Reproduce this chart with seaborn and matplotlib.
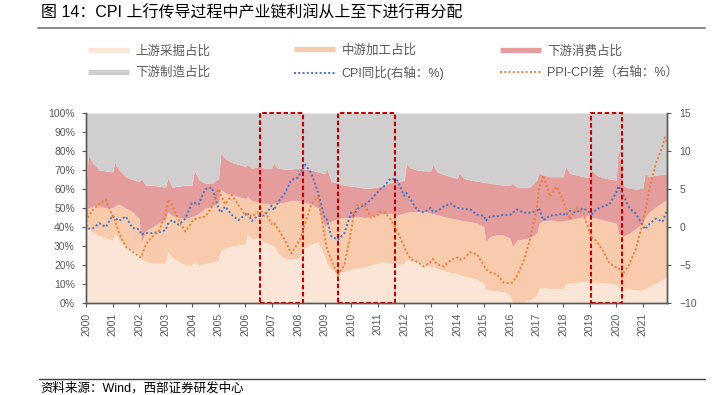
import pandas as pd
import matplotlib.pyplot as plt
import matplotlib.dates as mdates
from matplotlib.lines import Line2D
import seaborn as sns

# sample months (Dec of prev year, Jan, Mar, Jun, Sep) + last two months
years = list(range(2000, 2022))
months = []
for y in years:
    months += [f"{y-1}-12", f"{y}-01", f"{y}-03", f"{y}-06", f"{y}-09"]
months += ["2021-10", "2021-11"]

# cumulative shares (%), stacked from bottom: upstream, +midstream, +downstream consumption
upstream_top = [
    40, 39, 37.5, 35.5, 34,
    33, 37, 33, 30, 28,
    26, 23, 22, 21, 21,
    21, 27, 24, 22, 20,
    20, 22, 20, 21, 21.5,
    22.5, 28, 29, 30, 30.5,
    31, 36, 34, 34, 32,
    30.5, 30, 26, 23.5, 23,
    23.5, 25, 29, 31, 32,
    25, 21, 18, 16, 16.5,
    17.5, 18, 18.5, 19, 20,
    21, 21.5, 21.5, 21, 20.5,
    20.5, 23, 22, 21.5, 20.5,
    19, 19, 18, 17, 16,
    15.5, 15, 14, 13.5, 12.5,
    10.5, 7, 6.8, 6.3, 6,
    4.2, 0, 0, 0.7, 1.6,
    4.2, 7.7, 8, 7.7, 7.7,
    7.7, 10.4, 10.4, 10.9, 11.2,
    11.2, 11, 10.9, 10.7, 10.4,
    9.8, 8.5, 7.7, 7.4, 6.8,
    6.8, 7.5, 8.6, 10.4, 12.5, 13.5, 14,
]
midstream_top = [
    41, 50, 51, 51, 50,
    50, 51, 52, 50, 48,
    44.5, 32, 38, 40, 42,
    44, 48, 46, 45, 44.5,
    45.5, 46, 47, 50, 50.7,
    53, 60, 58, 57, 56,
    55, 56, 54, 53, 52.5,
    52, 52.5, 52.5, 53, 54,
    54, 54, 53, 52, 50,
    40, 42, 43, 44.5, 45,
    44.7, 45.5, 45.6, 45, 45.6,
    46.5, 46.8, 46.8, 47.2, 46.5,
    47.2, 47.8, 47.9, 48.2, 48.2,
    47.4, 47, 46.5, 45.5, 44.7,
    44, 43.7, 43.2, 42.8, 42,
    40.2, 32.5, 35, 35.8, 35.8,
    34, 29.6, 33, 33.7, 34.4,
    36.7, 42, 43.2, 43.7, 43,
    43.2, 43.5, 43.7, 44.6, 45.4,
    46.3, 45, 44.6, 43.7, 42.8,
    42, 36.7, 35, 36.7, 39.3,
    42, 45, 48, 50.7, 53, 53.8, 54,
]
consumption_top = [
    60, 78, 74, 70, 69.5,
    69, 74, 70, 66.5, 65,
    64, 65.5, 62, 62, 61.5,
    61, 66, 61, 61.5, 62,
    62, 70, 65, 63, 63,
    65.6, 79, 76, 74, 73,
    72, 73, 71, 71.8, 71,
    71, 73.5, 71, 70.5, 70.5,
    71, 71, 70.5, 70, 69,
    68, 71, 64, 63, 62,
    61.5, 61.5, 61, 60.5, 60.5,
    61, 61.5, 62, 63.5, 64,
    64.5, 73.5, 71, 70, 69.6,
    69.5, 73, 69, 67.7, 66.5,
    65.6, 68.5, 65.6, 64.7, 64.2,
    63.5, 63.5, 63, 62.5, 62,
    62, 63, 61.2, 60.7, 61.2,
    64.7, 68.6, 67.4, 66.5, 66.5,
    66.5, 72, 68.2, 67.4, 66.5,
    66, 70, 67.4, 66, 65.3,
    64.7, 84, 62, 60.4, 60,
    60.4, 68.2, 66.5, 67.4, 67.7, 68, 68,
]

# right axis (%)
cpi_yoy = [
    0.3, -0.2, -0.2, 0.5, 0.0,
    1.5, 1.2, 0.8, 1.4, -0.1,
    -0.3, -1.0, -0.8, -0.8, -0.7,
    -0.4, 0.4, 0.9, 0.3, 1.1,
    3.2, 3.2, 3.0, 5.0, 5.2,
    2.4, 1.9, 2.7, 1.6, 0.9,
    1.6, 1.9, 0.8, 1.5, 1.5,
    2.8, 2.2, 3.3, 4.4, 6.2,
    6.5, 7.1, 8.3, 7.1, 4.6,
    1.2, 1.0, -1.2, -1.7, -0.8,
    1.9, 1.5, 2.4, 2.9, 3.6,
    4.6, 4.9, 5.4, 6.4, 6.1,
    4.1, 4.5, 3.6, 2.2, 1.9,
    2.5, 2.0, 2.1, 2.7, 3.1,
    2.5, 2.5, 2.4, 2.3, 1.6,
    1.5, 0.8, 1.4, 1.4, 1.6,
    1.6, 1.8, 2.3, 1.9, 1.9,
    2.1, 2.5, 0.9, 1.5, 1.6,
    1.8, 1.5, 2.1, 1.9, 2.5,
    1.9, 1.7, 2.3, 2.7, 3.0,
    4.5, 5.4, 4.3, 2.5, 1.7,
    0.2, -0.3, 0.4, 1.1, 0.7, 1.5, 2.3,
]
ppi_cpi_gap = [
    0.7, 1.3, 2.2, 3.0, 3.6,
    1.4, 0.9, -0.8, -2.6, -3.2,
    -3.9, -4.0, -2.3, -1.3, -0.5,
    1.6, 3.6, 2.9, 0.9, -0.6,
    0.7, 1.0, 1.2, 1.35, 2.7,
    5.0, 4.2, 3.0, 4.2, 2.9,
    1.6, 1.7, 1.4, 2.0, 2.0,
    0.4, 0.6, -0.3, -1.7, -3.5,
    -2.0, -1.5, 0.3, 3.0, 4.0,
    -1.2, -2.8, -4.3, -6.3, -5.0,
    -0.5, 1.4, 2.9, 3.0, 1.2,
    1.5, 2.0, 2.0, 1.0, -0.6,
    -2.5, -3.3, -4.2, -4.6, -5.2,
    -4.6, -4.2, -4.9, -5.2, -4.4,
    -4.0, -4.3, -4.2, -3.3, -3.6,
    -5.0, -5.5, -6.0, -6.2, -7.3,
    -7.4, -7.3, -6.5, -4.6, -1.6,
    2.5, 5.0, 6.8, 4.0, 5.3,
    3.5, 2.5, 1.0, 2.5, 2.0,
    -0.7, -1.4, -1.8, -3.1, -4.8,
    -5.3, -5.4, -6.2, -4.9, -2.8,
    0.6, 2.0, 5.0, 8.4, 10.6, 11.8, 11.1,
]

highlight_periods = [("2006-07-31", "2008-03-10"),
                     ("2009-07-05", "2011-09-01"),
                     ("2019-01-12", "2020-03-25")]

labels = ["上游采掘占比", "中游加工占比", "下游消费占比",
          "下游制造占比", "CPI同比(右轴：%)", "PPI-CPI差（右轴：%）"]

df = pd.DataFrame({
    "month": months,
    "up": upstream_top,
    "mid": midstream_top,
    "cons": consumption_top,
    "cpi": cpi_yoy,
    "gap": ppi_cpi_gap,
})
df["date"] = pd.to_datetime(df["month"]) + pd.offsets.MonthEnd(0)

sns.set_style("ticks")
plt.rcParams["font.family"] = ["Liberation Sans", "Noto Sans CJK SC"]

c_up, c_mid, c_cons, c_manu = "#FBE5D6", "#F8CBAD", "#E49C9D", "#D0CECE"
c_cpi, c_gap = "#4472C4", "#ED7D31"
grey = "#595959"
dots = (0, (1, 1.2))

fig = plt.figure(figsize=(7.14, 3.95), dpi=100)
ax = fig.add_axes([86 / 714, 1 - 303 / 395, (667 - 86) / 714, 190 / 395])

ax.fill_between(df["date"], 0, df["up"], color=c_up, lw=0)
ax.fill_between(df["date"], df["up"], df["mid"], color=c_mid, lw=0)
ax.fill_between(df["date"], df["mid"], df["cons"], color=c_cons, lw=0)
ax.fill_between(df["date"], df["cons"], 100, color=c_manu, lw=0)
ax.set_ylim(0, 100)
ax.set_yticks(range(0, 101, 10))
ax.set_yticklabels([f"{v}%" for v in range(0, 101, 10)])
ax.set_xlim(pd.Timestamp("1999-12-31"), pd.Timestamp("2021-11-30"))

ax2 = ax.twinx()
sns.lineplot(data=df, x="date", y="cpi", ax=ax2, color=c_cpi, lw=1.4,
             linestyle=dots, sort=False, estimator=None)
sns.lineplot(data=df, x="date", y="gap", ax=ax2, color=c_gap, lw=1.4,
             linestyle=dots, sort=False, estimator=None)
ax2.set_ylim(-10, 15)
ax2.set_yticks(range(-10, 16, 5))
ax2.set_xlim(pd.Timestamp("1999-12-31"), pd.Timestamp("2021-11-30"))

for a, b in highlight_periods:
    ax2.axvspan(pd.Timestamp(a), pd.Timestamp(b), ymin=0, ymax=1, fill=False,
                edgecolor="#C00000", lw=1.5, linestyle=(0, (2.2, 1.2)),
                clip_on=False)

ax.xaxis.set_major_locator(mdates.YearLocator())
ax.xaxis.set_major_formatter(mdates.DateFormatter("%Y"))
for a in (ax, ax2):
    a.set_xlabel("")
    a.set_ylabel("")
    a.spines["top"].set_visible(False)
    for s in ("left", "right", "bottom"):
        a.spines[s].set_color(grey)
        a.spines[s].set_linewidth(1.0)
    a.tick_params(colors=grey, labelcolor=grey, labelsize=7.5, length=3, width=0.8)
ax.tick_params(axis="y", pad=5)
ax2.tick_params(axis="y", pad=6)
ax.tick_params(axis="x", labelrotation=90, pad=4)

# legend in three columns
h = {
    "up": Line2D([], [], color=c_up, lw=3.8, solid_capstyle="butt"),
    "mid": Line2D([], [], color=c_mid, lw=3.8, solid_capstyle="butt"),
    "cons": Line2D([], [], color=c_cons, lw=3.8, solid_capstyle="butt"),
    "manu": Line2D([], [], color=c_manu, lw=3.8, solid_capstyle="butt"),
    "cpi": Line2D([], [], color=c_cpi, lw=1.4, linestyle=dots),
    "gap": Line2D([], [], color=c_gap, lw=1.4, linestyle=dots),
}
cols = [(["up", "manu"], [labels[0], labels[3]], 88),
        (["mid", "cpi"], [labels[1], labels[4]], 294),
        (["cons", "gap"], [labels[2], labels[5]], 500)]
for keys, labs, x0 in cols:
    fig.legend([h[k] for k in keys], labs, loc="center left",
               bbox_to_anchor=(x0 / 714, 1 - 62 / 395), frameon=False,
               fontsize=9, handlelength=3.3, handletextpad=0.5,
               labelspacing=0.75, borderpad=0, borderaxespad=0,
               labelcolor=grey)

fig.text(41 / 714, 1 - 13 / 395, "图 14：CPI 上行传导过程中产业链利润从上至下进行再分配",
         fontsize=11.5, va="center", ha="left", color="black")
fig.add_artist(Line2D([38 / 714, 705 / 714], [1 - 28 / 395] * 2,
                      color="#7f7f7f", lw=1.3, transform=fig.transFigure))
fig.add_artist(Line2D([39 / 714, 705 / 714], [1 - 379 / 395] * 2,
                      color="#404040", lw=1.0, transform=fig.transFigure))
fig.text(40 / 714, 1 - 388 / 395, "资料来源：Wind，西部证券研发中心",
         fontsize=9, va="center", ha="left", color="black")

fig.savefig("out.png", dpi=100)
